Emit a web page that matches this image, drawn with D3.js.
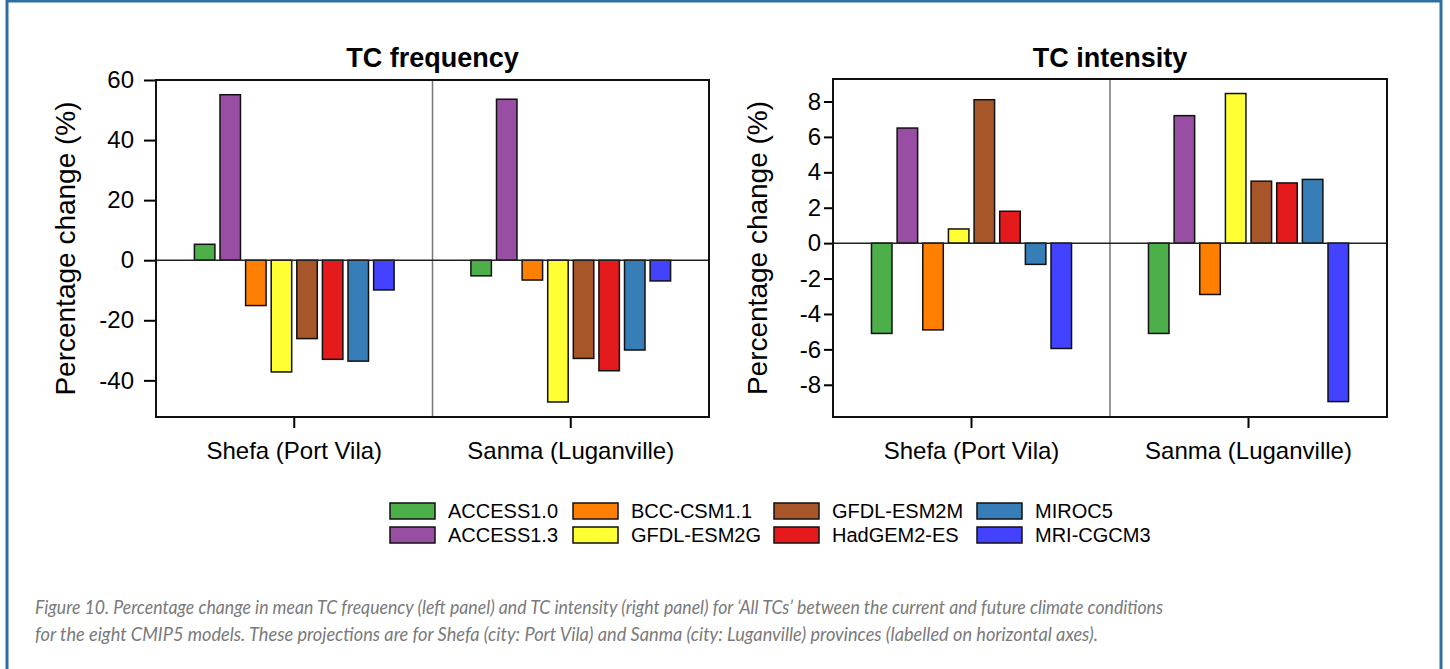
<!DOCTYPE html>
<html>
<head>
<meta charset="utf-8">
<script src="https://cdn.jsdelivr.net/npm/d3@7"></script>
<style>
  body { margin: 0; background: #fff; }
  svg { display: block; }
</style>
</head>
<body>
<script>
// Models and colours (legend order = bar order)
const models = ["ACCESS1.0", "ACCESS1.3", "BCC-CSM1.1", "GFDL-ESM2G",
                "GFDL-ESM2M", "HadGEM2-ES", "MIROC5", "MRI-CGCM3"];
const colors = ["#4daf4a", "#984ea3", "#ff7f00", "#ffff33",
                "#a65628", "#e41a1c", "#377eb8", "#4242ff"];
const provinces = ["Shefa (Port Vila)", "Sanma (Luganville)"];

// TC frequency, % change
const freqShefa = [5.3, 55.1, -15.1, -37.2, -26.1, -33.0, -33.6, -9.9];
const freqSanma = [-5.2, 53.6, -6.6, -47.2, -32.7, -36.8, -29.9, -6.9];
// TC intensity, % change
const intShefa = [-5.1, 6.5, -4.9, 0.8, 8.1, 1.8, -1.2, -5.95];
const intSanma = [-5.1, 7.2, -2.9, 8.45, 3.5, 3.4, 3.6, -8.95];

const freqTicks = [-40, -20, 0, 20, 40, 60];
const intTicks = [-8, -6, -4, -2, 0, 2, 4, 6, 8];

const caption1 = "Figure 10. Percentage change in mean TC frequency (left panel) and TC intensity (right panel) for \u2018All TCs\u2019 between the current and future climate conditions";
const caption2 = "for the eight CMIP5 models. These projections are for Shefa (city: Port Vila) and Sanma (city: Luganville) provinces (labelled on horizontal axes).";

const W = 1450, H = 669;
const font = "Arial, 'Liberation Sans', sans-serif";

const svg = d3.select("body").append("svg")
    .attr("width", W)
    .attr("height", H);

// outer frame of the figure
svg.append("rect")
    .attr("x", 7).attr("y", 1)
    .attr("width", 1434).attr("height", 720)
    .attr("fill", "none")
    .attr("stroke", "#2f70a3")
    .attr("stroke-width", 3);

function drawPanel(o) {
    const g = svg.append("g");

    const y = d3.scaleLinear().domain(o.domain).range([o.bottom, o.top]);
    const gx = d3.scaleBand().domain(provinces).range([o.left, o.right]);
    const bx = d3.scaleBand().domain(models)
        .range([0, gx.bandwidth()])
        .paddingInner(0.2)
        .paddingOuter(1.5);

    // y axis ticks + labels
    g.append("g")
        .attr("transform", `translate(${o.left},0)`)
        .call(d3.axisLeft(y).tickValues(o.ticks).tickFormat(d => String(d))
            .tickSize(o.tickSize).tickPadding(o.tickPad).tickSizeOuter(0))
        .call(a => a.select(".domain").remove())
        .call(a => a.selectAll("line").attr("stroke", "#000").attr("stroke-width", 2))
        .call(a => a.selectAll("text").attr("font-family", font)
            .attr("font-size", 24).attr("fill", "#000"));

    // x axis ticks + province labels
    g.append("g")
        .attr("transform", `translate(0,${o.bottom})`)
        .call(d3.axisBottom(gx).tickSize(11).tickPadding(14).tickSizeOuter(0))
        .call(a => a.select(".domain").remove())
        .call(a => a.selectAll("line").attr("stroke", "#000").attr("stroke-width", 2))
        .call(a => a.selectAll("text").attr("font-family", font)
            .attr("font-size", 24).attr("fill", "#000"));

    // divider between provinces
    g.append("line")
        .attr("x1", gx(provinces[1])).attr("x2", gx(provinces[1]))
        .attr("y1", o.top).attr("y2", o.bottom)
        .attr("stroke", "#777").attr("stroke-width", 1.5);

    // bars
    provinces.forEach((p, pi) => {
        g.append("g")
            .attr("transform", `translate(${gx(p)},0)`)
            .selectAll("rect")
            .data(o.values[pi])
            .join("rect")
            .attr("x", (d, i) => bx(models[i]))
            .attr("width", bx.bandwidth())
            .attr("y", d => y(Math.max(0, d)))
            .attr("height", d => Math.abs(y(d) - y(0)))
            .attr("fill", (d, i) => colors[i])
            .attr("stroke", "#111")
            .attr("stroke-width", 1.5);
    });

    // zero line
    g.append("line")
        .attr("x1", o.left).attr("x2", o.right)
        .attr("y1", y(0)).attr("y2", y(0))
        .attr("stroke", "#222").attr("stroke-width", 1.5);

    // frame
    g.append("rect")
        .attr("x", o.left).attr("y", o.top)
        .attr("width", o.right - o.left).attr("height", o.bottom - o.top)
        .attr("fill", "none")
        .attr("stroke", "#111").attr("stroke-width", 2);

    // title
    g.append("text")
        .attr("x", (o.left + o.right) / 2).attr("y", 67)
        .attr("text-anchor", "middle")
        .attr("font-family", font).attr("font-weight", "bold")
        .attr("font-size", 27)
        .text(o.title);

    // y label
    g.append("text")
        .attr("transform", `translate(${o.labelX},${(o.top + o.bottom) / 2}) rotate(-90)`)
        .attr("text-anchor", "middle")
        .attr("font-family", font).attr("font-size", 28)
        .text("Percentage change (%)");
}

drawPanel({
    title: "TC frequency",
    left: 156, right: 709, top: 80, bottom: 417,
    domain: [-52.2, 60], ticks: freqTicks,
    tickSize: 12, tickPad: 10, labelX: 75,
    values: [freqShefa, freqSanma]
});

drawPanel({
    title: "TC intensity",
    left: 833, right: 1387, top: 79, bottom: 417,
    domain: [-9.82, 9.27], ticks: intTicks,
    tickSize: 9, tickPad: 3, labelX: 767,
    values: [intShefa, intSanma]
});

// legend, two rows, filled column by column
const legCols = [390, 573, 774, 977];
const legRows = [503, 527];
const leg = svg.append("g");
models.forEach((m, i) => {
    const x = legCols[Math.floor(i / 2)], yy = legRows[i % 2];
    leg.append("rect")
        .attr("x", x).attr("y", yy)
        .attr("width", 45).attr("height", 16)
        .attr("fill", colors[i])
        .attr("stroke", "#111").attr("stroke-width", 1.5);
    leg.append("text")
        .attr("x", x + 58).attr("y", yy + 15)
        .attr("font-family", font).attr("font-size", 20)
        .text(m);
});

// caption
const cap = svg.append("g")
    .attr("font-family", "Lato, 'Open Sans', sans-serif")
    .attr("font-style", "italic")
    .attr("font-size", 20)
    .attr("fill", "#7a7a7a");
cap.append("text").attr("x", 35).attr("y", 614)
    .attr("textLength", 1128).attr("lengthAdjust", "spacingAndGlyphs")
    .text(caption1);
cap.append("text").attr("x", 35).attr("y", 641)
    .attr("textLength", 1063).attr("lengthAdjust", "spacingAndGlyphs")
    .text(caption2);
</script>
</body>
</html>
